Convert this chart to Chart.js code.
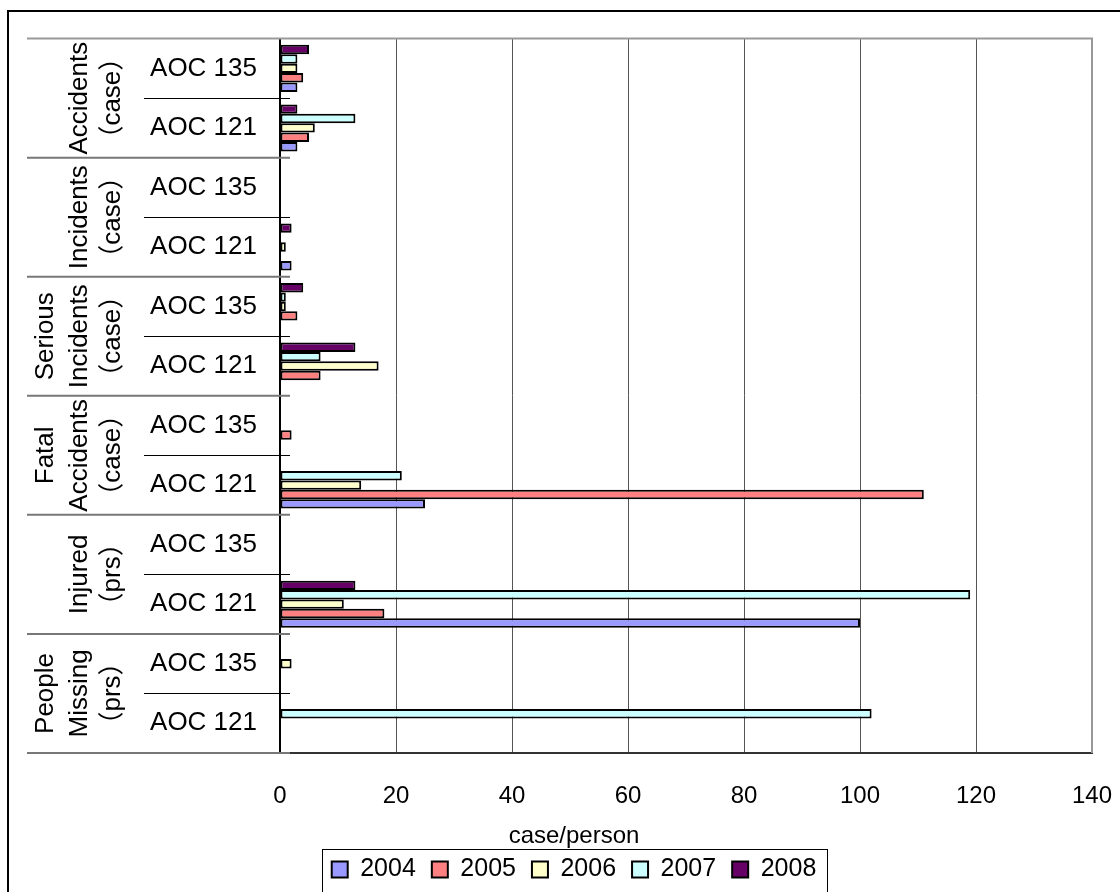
<!DOCTYPE html>
<html>
<head>
<meta charset="utf-8">
<script src="https://cdn.jsdelivr.net/npm/chart.js@4.4.1/dist/chart.umd.min.js"></script>
<style>
  html, body { margin: 0; padding: 0; background: #fff; }
  #wrap { width: 1120px; height: 892px; }
</style>
</head>
<body>
<div id="wrap"><canvas id="chart" width="1120" height="892"></canvas></div>
<script>
// --- values (rows top to bottom) ---
const ROW_LABELS = [
  "AOC 135", "AOC 121", "AOC 135", "AOC 121", "AOC 135", "AOC 121",
  "AOC 135", "AOC 121", "AOC 135", "AOC 121", "AOC 135", "AOC 121",
];
const GROUP_LABELS = [
  ["Accidents", "（case）"],
  ["Incidents", "（case）"],
  ["Serious", "Incidents", "（case）"],
  ["Fatal", "Accidents", "（case）"],
  ["Injured", "（prs）"],
  ["People", "Missing", "（prs）"],
];
const YEARS = ["2004", "2005", "2006", "2007", "2008"];
const V2004 = [3, 3, 0, 2, 0, 0, 0, 25, 0, 100, 0, 0];
const V2005 = [4, 5, 0, 0, 3, 7, 2, 111, 0, 18, 0, 0];
const V2006 = [3, 6, 0, 1, 1, 17, 0, 14, 0, 11, 2, 0];
const V2007 = [3, 13, 0, 0, 1, 7, 0, 21, 0, 119, 0, 102];
const V2008 = [5, 3, 0, 2, 4, 13, 0, 0, 0, 13, 0, 0];
const X_MIN = 0;
const X_MAX = 140;
const X_STEP = 20;
const X_TITLE = "case/person";

const COLORS = ["#9999FF", "#FF8080", "#FFFFCC", "#CCFFFF", "#660066"];
const FONT = "'Liberation Sans', 'Noto Sans CJK JP', Arial, sans-serif";

Chart.defaults.font.family = FONT;
Chart.defaults.color = "#000";

const series = [V2004, V2005, V2006, V2007, V2008];

// 2008 sits on top of each band in the reference, so feed the years in reverse
const datasets = YEARS.map((y, i) => ({
  label: y,
  data: series[i],
  backgroundColor: COLORS[i],
  borderColor: "#000",
  borderWidth: 2,
  borderSkipped: false,
})).reverse();

// === frame, row separators, rotated group labels, axis title ===
const decor = {
  id: "decor",
  beforeDraw(chart) {
    const c = chart.ctx;
    c.save();
    c.fillStyle = "#fff";
    c.fillRect(0, 0, chart.width, chart.height);
    c.restore();
  },
  afterDraw(chart) {
    const c = chart.ctx;
    const area = chart.chartArea;
    const ys = chart.scales.y;
    const rowH = (ys.bottom - ys.top) / ROW_LABELS.length;
    c.save();

    // outer frame
    c.strokeStyle = "#000";
    c.lineWidth = 2;
    c.strokeRect(8, 11, 1300, 1000);

    // plot border (top / right)
    c.strokeStyle = "#999";
    c.lineWidth = 2;
    c.beginPath();
    c.moveTo(27, area.top);
    c.lineTo(area.right, area.top);
    c.lineTo(area.right, area.bottom);
    c.stroke();

    // separators between groups and between AOC rows
    GROUP_LABELS.forEach((lines, g) => {
      const top = ys.getPixelForValue(g * 2) - rowH / 2;
      const mid = top + rowH;
      const bottom = top + rowH * 2;

      c.strokeStyle = "#000";
      c.lineWidth = 1;
      c.beginPath();
      c.moveTo(144, Math.round(mid) + 0.5);
      c.lineTo(area.left + 10, Math.round(mid) + 0.5);
      c.stroke();

      c.strokeStyle = "#777";
      c.lineWidth = 2;
      c.beginPath();
      c.moveTo(27, bottom);
      c.lineTo(area.left + 10, bottom);
      c.stroke();

      // rotated label, last line closest to the AOC labels
      c.fillStyle = "#000";
      c.font = "26px " + FONT;
      c.textAlign = "center";
      c.textBaseline = "middle";
      const cy = (top + bottom) / 2;
      lines.forEach((t, k) => {
        const cx = 113 - (lines.length - 1 - k) * 33.5;
        c.save();
        c.translate(cx, cy);
        c.rotate(-Math.PI / 2);
        c.fillText(t, 0, 0);
        c.restore();
      });
    });

    // legend frame + axis title, both centred on the legend
    const hb = chart.legend.legendHitBoxes;
    if (hb && hb.length) {
      const first = hb[0];
      const last = hb[hb.length - 1];
      const l = first.left - 10;
      const r = last.left + last.width + 10;
      c.strokeStyle = "#000";
      c.lineWidth = 1;
      c.strokeRect(Math.round(l) + 0.5, Math.round(first.top - 8) + 0.5, Math.round(r - l), 80);

      c.fillStyle = "#000";
      c.font = "24px " + FONT;
      c.textAlign = "center";
      c.textBaseline = "middle";
      c.fillText(X_TITLE, (l + r) / 2, 836);
    }
    c.restore();
  },
};

new Chart(document.getElementById("chart"), {
  type: "bar",
  data: { labels: ROW_LABELS, datasets },
  plugins: [decor],
  options: {
    indexAxis: "y",
    responsive: false,
    animation: false,
    layout: { padding: { top: 30, right: 0, left: 28, bottom: 0 } },
    datasets: { bar: { categoryPercentage: 0.79, barPercentage: 1 } },
    plugins: {
      legend: {
        position: "bottom",
        reverse: true,
        labels: {
          boxWidth: 16,
          boxHeight: 16,
          padding: 16,
          color: "#000",
          font: { size: 25 },
        },
      },
      tooltip: { enabled: false },
    },
    scales: {
      x: {
        min: X_MIN,
        max: X_MAX,
        ticks: { stepSize: X_STEP, color: "#000", font: { size: 24 }, padding: 29 },
        grid: {
          drawTicks: false,
          color: (ctx) => (ctx.tick && ctx.tick.value === X_MAX ? "#999" : "#555"),
          lineWidth: (ctx) => (ctx.tick && ctx.tick.value === X_MAX ? 2 : 1),
        },
        border: { color: "#333", width: 2 },
        afterFit: (s) => {
          s.height = 88;
          s.paddingLeft = 0;
          s.paddingRight = 28;
        },
      },
      y: {
        ticks: { color: "#000", font: { size: 26 }, padding: 23 },
        grid: { display: false, drawTicks: false },
        border: { color: "#000", width: 2 },
        afterFit: (s) => { s.width = 252; },
      },
    },
  },
});
</script>
</body>
</html>
